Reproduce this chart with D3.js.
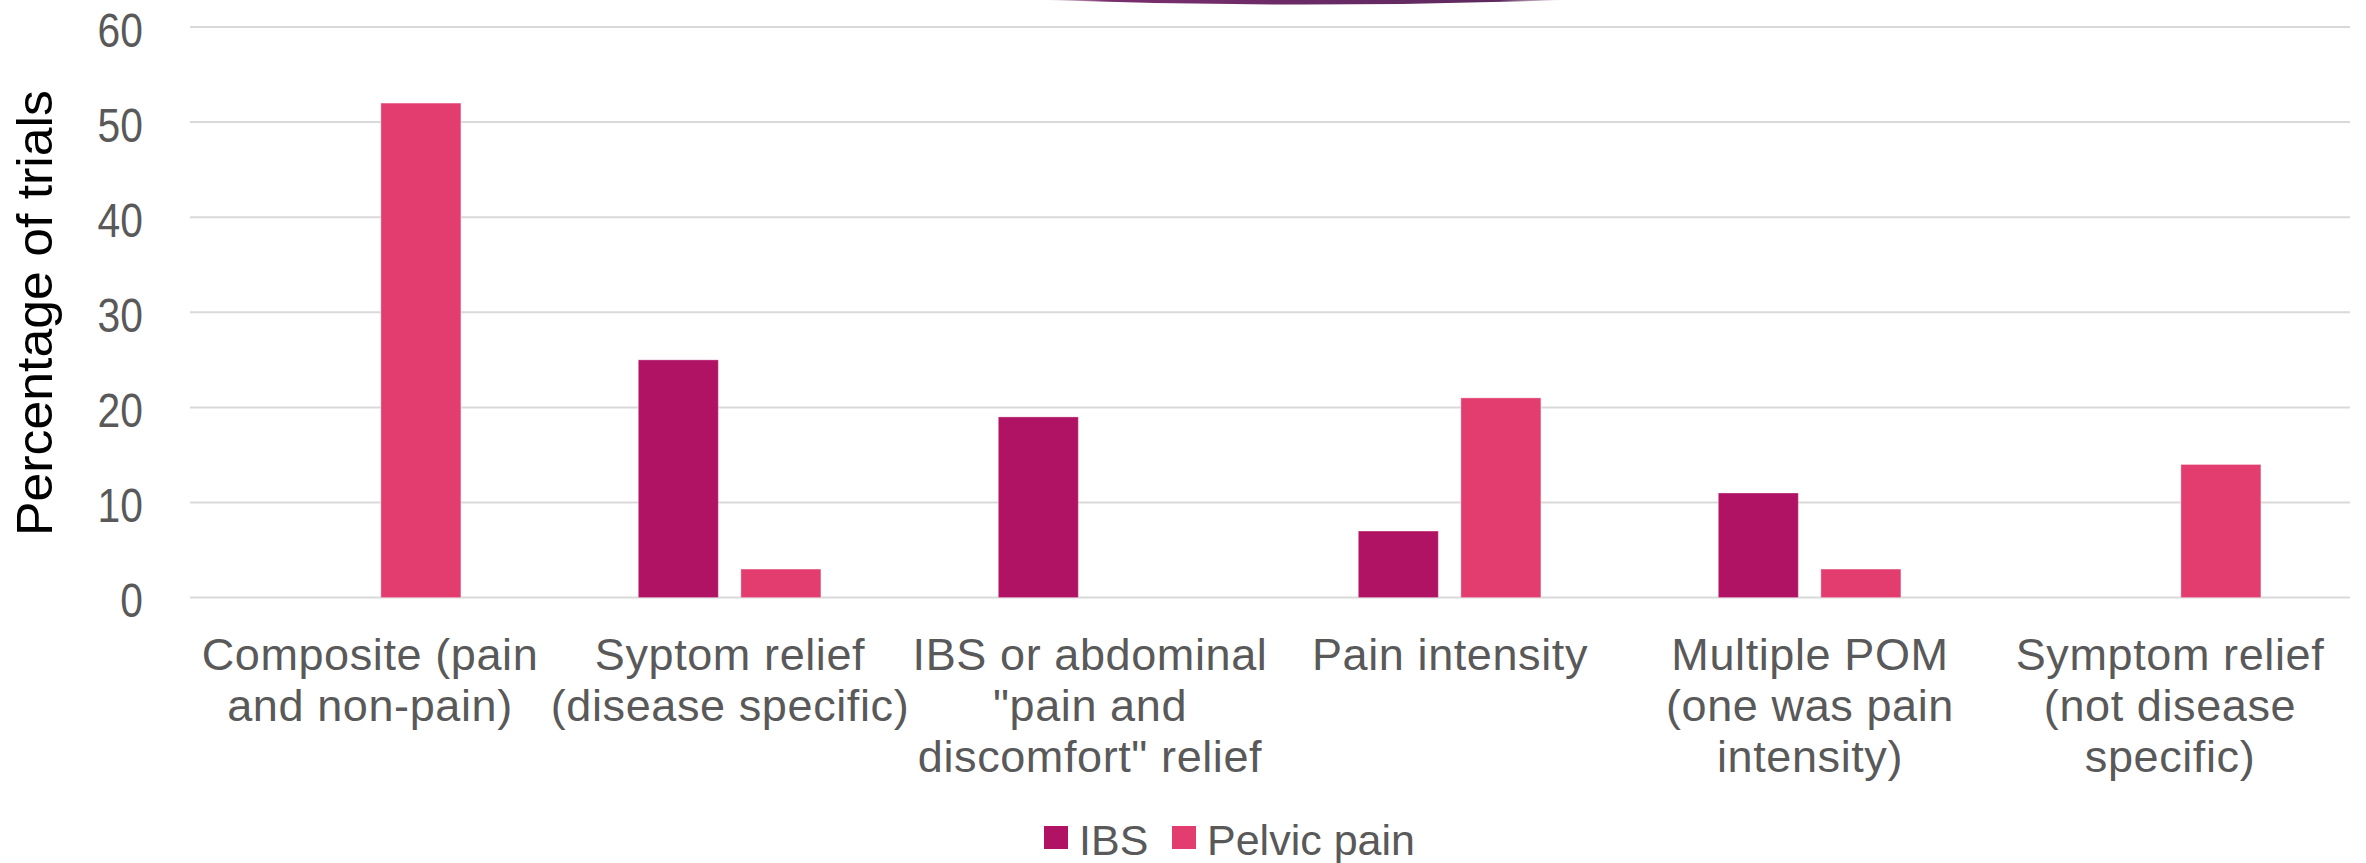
<!DOCTYPE html>
<html>
<head>
<meta charset="utf-8">
<script src="https://cdn.jsdelivr.net/npm/d3@7"></script>
<style>
  html, body { margin: 0; padding: 0; background: #ffffff; }
  svg { display: block; }
  text { font-family: "Liberation Sans", "DejaVu Sans", sans-serif; }
</style>
</head>
<body>
<svg id="chart" width="2366" height="863"></svg>
<script>
// ---- data ----
const categories = [
  ["Composite (pain", "and non-pain)"],
  ["Syptom relief", "(disease specific)"],
  ["IBS or abdominal", "\"pain and", "discomfort\" relief"],
  ["Pain intensity"],
  ["Multiple POM", "(one was pain", "intensity)"],
  ["Symptom relief", "(not disease", "specific)"]
];
const seriesNames = ["IBS", "Pelvic pain"];
const ibsValues    = [0, 25, 19, 7, 11, 0];
const pelvicValues = [52, 3, 0, 21, 3, 14];
const yTicks = [0, 10, 20, 30, 40, 50, 60];
const yTitle = "Percentage of trials";
const colors = ["#B01264", "#E23D6E"];

// ---- layout ----
const svg = d3.select("#chart");
const plotLeft = 190, plotRight = 2350, plotTop = 27, plotBottom = 597.6;
const catKeys = categories.map((c, i) => i);

const x = d3.scaleBand().domain(catKeys).range([plotLeft, plotRight]).paddingInner(0).paddingOuter(0);
const xSub = d3.scaleBand().domain(seriesNames).range([88.3, 270.9]).paddingInner(0.22).paddingOuter(0);
const y = d3.scaleLinear().domain([0, 60]).range([plotBottom, plotTop]);

// decorative arc at top (slide background fragment)
const defs = svg.append("defs");
const grad = defs.append("linearGradient").attr("id", "arcGrad").attr("x1", "0").attr("x2", "1").attr("y1", "0").attr("y2", "0");
grad.append("stop").attr("offset", "0").attr("stop-color", "#7a2e6e").attr("stop-opacity", 0);
grad.append("stop").attr("offset", "0.12").attr("stop-color", "#7a2e6e").attr("stop-opacity", 1);
grad.append("stop").attr("offset", "0.5").attr("stop-color", "#6a2a66").attr("stop-opacity", 1);
grad.append("stop").attr("offset", "0.88").attr("stop-color", "#5e2a5e").attr("stop-opacity", 1);
grad.append("stop").attr("offset", "1").attr("stop-color", "#5e2a5e").attr("stop-opacity", 0);
svg.append("path")
  .attr("d", "M1043,0 Q1303,9 1563,0 Z")
  .attr("fill", "url(#arcGrad)");

// gridlines
svg.append("g").selectAll("line").data(yTicks).join("line")
  .attr("x1", plotLeft).attr("x2", plotRight)
  .attr("y1", d => y(d)).attr("y2", d => y(d))
  .attr("stroke", "#d9d9d9").attr("stroke-width", 2);

// y tick labels via axis
const yAxis = d3.axisLeft(y).tickValues(yTicks).tickSize(0).tickPadding(0);
const yg = svg.append("g").attr("transform", `translate(${143},0)`).call(yAxis);
yg.select(".domain").remove();
yg.selectAll("text")
  .attr("fill", "#595959")
  .attr("dy", "0.4em")
  .attr("transform", "scale(0.85,1)")
  .style("font-size", "48px")
  .style("font-family", "Liberation Sans, DejaVu Sans, sans-serif");

// bars
const seriesData = [ibsValues, pelvicValues];
seriesNames.forEach((s, si) => {
  svg.append("g").selectAll("rect")
    .data(seriesData[si].map((v, i) => ({ i, v })).filter(d => d.v > 0))
    .join("rect")
    .attr("x", d => x(d.i) + xSub(s))
    .attr("width", xSub.bandwidth())
    .attr("y", d => y(d.v))
    .attr("height", d => y(0) - y(d.v))
    .attr("fill", colors[si])
    .attr("stroke", "#ffffff").attr("stroke-opacity", 0.35).attr("stroke-width", 1);
});

// category labels
const lab = svg.append("g");
categories.forEach((lines, i) => {
  const cx = x(i) + x.bandwidth() / 2;
  const t = lab.append("text")
    .attr("text-anchor", "middle")
    .attr("fill", "#595959")
    .style("font-size", "45px")
    .style("letter-spacing", "0.6px");
  lines.forEach((ln, k) => {
    t.append("tspan").attr("x", cx).attr("y", 670 + k * 51).text(ln);
  });
});

// y title
svg.append("text")
  .attr("transform", `translate(${52},${313}) rotate(-90)`)
  .attr("text-anchor", "middle")
  .attr("fill", "#000000")
  .attr("textLength", 446)
  .attr("lengthAdjust", "spacingAndGlyphs")
  .style("font-size", "50px")
  .text(yTitle);

// legend
const legend = svg.append("g");
const legendX = [1044, 1172];
seriesNames.forEach((s, si) => {
  legend.append("rect")
    .attr("x", legendX[si]).attr("y", 826)
    .attr("width", 24).attr("height", 23)
    .attr("fill", colors[si]);
  legend.append("text")
    .attr("x", legendX[si] + 35).attr("y", 855)
    .attr("fill", "#595959")
    .style("font-size", "43px")
    .text(s);
});
</script>
</body>
</html>
